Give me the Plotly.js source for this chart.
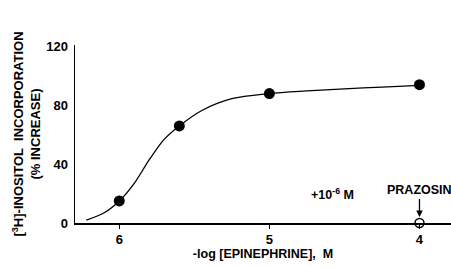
<!DOCTYPE html>
<html><head><meta charset="utf-8">
<script src="https://cdn.plot.ly/plotly-3.0.1.min.js"></script>
<style>html,body{margin:0;padding:0;background:#fff}#c{width:451px;height:267px}</style>
</head><body><div id="c"></div>
<script>
// measured points: -log[epinephrine] vs % increase
const logConc = [6, 5.6, 5, 4];
const increase = [15, 66, 88, 94];
// fitted curve
const curveX = [6.22, 6.1, 6.0, 5.9, 5.8, 5.7, 5.6, 5.45, 5.25, 5.0, 4.75, 4.5, 4.25, 4.0];
const curveY = [2, 7, 15, 27, 43, 57, 66, 76.5, 84.5, 88, 89.8, 91.2, 92.4, 93.5];
// prazosin point
const prazX = [4];
const prazY = [0];
const xTicks = [6, 5, 4];
const yTicks = [0, 40, 80, 120];

const font = {family: 'Liberation Sans, Arial, sans-serif', color: '#000'};
const data = [
  {x: curveX, y: curveY, mode: 'lines', line: {shape: 'spline', smoothing: 0.9, color: '#000', width: 1.3}, hoverinfo: 'skip', cliponaxis: false},
  {x: logConc, y: increase, mode: 'markers', marker: {size: 11, color: '#000'}, cliponaxis: false},
  {x: prazX, y: prazY, mode: 'markers', marker: {size: 9, color: '#fff', line: {color: '#000', width: 1.5}}, cliponaxis: false}
];
const layout = {
  width: 451, height: 267,
  margin: {l: 75, r: 0, t: 45, b: 44},
  showlegend: false,
  paper_bgcolor: '#fff', plot_bgcolor: '#fff',
  font: font,
  xaxis: {
    range: [6.295, 3.79], autorange: false,
    tickvals: xTicks, ticktext: xTicks.map(String),
    showgrid: false, zeroline: false,
    showline: true, linecolor: '#000', linewidth: 1.5,
    ticks: 'outside', ticklen: 4, tickwidth: 1.5, tickcolor: '#000',
    tickfont: {family: font.family, size: 13, color: '#000', weight: 'bold'},
    title: {text: '-log [EPINEPHRINE],  M', font: {family: font.family, size: 12.5, color: '#000', weight: 'bold'}, standoff: 0}
  },
  yaxis: {
    range: [0, 121], autorange: false,
    tickvals: yTicks, ticktext: yTicks.map(String),
    showgrid: false, zeroline: false,
    showline: true, linecolor: '#000', linewidth: 1.5,
    ticks: '', ticklabelstandoff: 3,
    tickfont: {family: font.family, size: 13, color: '#000', weight: 'bold'},
    title: {text: '[<sup>3</sup>H]-INOSITOL  INCORPORATION<br>(% INCREASE)', font: {family: font.family, size: 13, color: '#000', weight: 'bold'}, standoff: 2}
  },
  annotations: [
    {x: 4, y: 4, xref: 'x', yref: 'y', ax: 0, ay: -18, showarrow: true, arrowhead: 2, arrowsize: 1, arrowwidth: 1.3, arrowcolor: '#000',
     text: 'PRAZOSIN', yanchor: 'bottom', font: {family: font.family, size: 12.5, color: '#000', weight: 'bold'}},
    {x: 4.58, y: 20, xref: 'x', yref: 'y', showarrow: false, text: '+10<sup>-6</sup> M',
     font: {family: font.family, size: 12.5, color: '#000', weight: 'bold'}}
  ]
};
Plotly.newPlot('c', data, layout, {staticPlot: true, displayModeBar: false});
</script></body></html>
